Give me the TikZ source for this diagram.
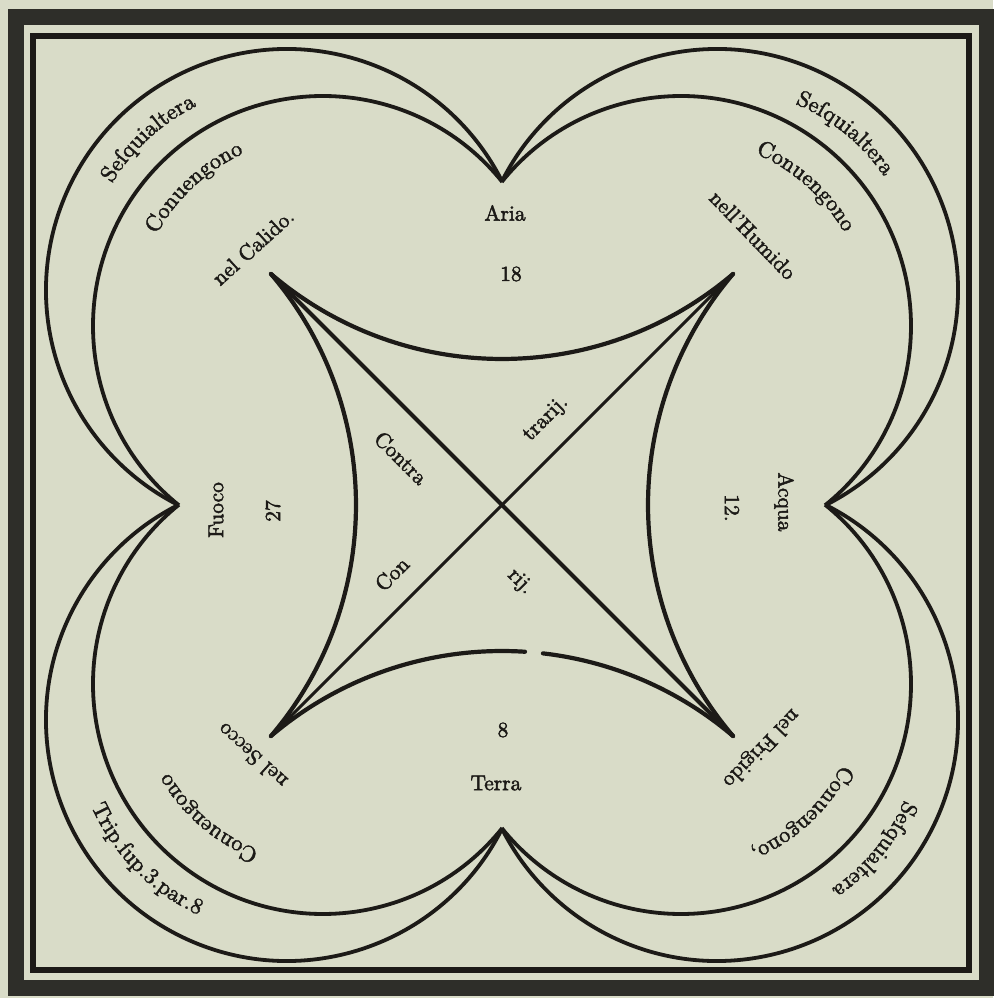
\documentclass[tikz,border=0pt]{standalone}
\usepackage{fontspec}
\setmainfont{lmroman10-regular.otf}[FakeBold=2.2]
\usetikzlibrary{decorations.text}
\definecolor{paper}{HTML}{D9DCC8}
\definecolor{ink}{HTML}{1C1A17}
\definecolor{band}{HTML}{2E2E29}
\newcommand\arctxt[5]{%
  \path[shift={#1},decorate,decoration={text along path,text align=center,
    text={|\color{ink}\fontsize{22.5}{27}\selectfont|#5}}]
    (#3:#2) arc[start angle=#3,end angle=#4,radius=#2];}
\newcommand\cusptip[2]{%
  \fill[ink,shift={(#1)}] (#2+180:3) -- (#2+7:30) -- (#2-7:30) -- cycle;}
\begin{document}
\begin{tikzpicture}[x=1pt,y=1pt,
  lobe/.style={draw=ink,line width=3.8pt},
  starline/.style={draw=ink,line width=4.2pt,line cap=round},
  lbl/.style={text=ink,font=\fontsize{21.5}{26}\selectfont,inner sep=0pt}]
\useasboundingbox (-502,-493) rectangle (491,505);
\fill[paper] (-502,-493) rectangle (491,505);
% frame
\draw[band,line width=16pt] (-485.5,-482.5) rectangle (484.5,487.5);
\draw[ink,line width=6pt] (-468.5,-465) rectangle (467,468.5);
% four lobes (outer and inner arcs)
\draw[lobe,shift={(-215,215)}] (26.67:241) arc[start angle=26.67,end angle=243.33,radius=241];
\draw[lobe,shift={(-179,179)}] (38.82:230) arc[start angle=38.82,end angle=231.18,radius=230];
\draw[lobe,shift={(215,215)}] (153.33:241) arc[start angle=153.33,end angle=-63.33,radius=241];
\draw[lobe,shift={(179,179)}] (141.18:230) arc[start angle=141.18,end angle=-51.18,radius=230];
\draw[lobe,shift={(215,-215)}] (63.33:241) arc[start angle=63.33,end angle=-153.33,radius=241];
\draw[lobe,shift={(179,-179)}] (51.18:230) arc[start angle=51.18,end angle=-141.18,radius=230];
\draw[lobe,shift={(-215,-215)}] (-26.67:241) arc[start angle=-26.67,end angle=-243.33,radius=241];
\draw[lobe,shift={(-179,-179)}] (-38.82:230) arc[start angle=-38.82,end angle=-231.18,radius=230];
% inner four-cusped figure
\coordinate (ctl) at (-231,231);
\coordinate (ctr) at (231,231);
\coordinate (cbr) at (231,-231);
\coordinate (cbl) at (-231,-231);
\draw[starline,shift={(0,502.4)}] (-130.4:356.4) arc[start angle=-130.4,end angle=-49.6,radius=356.4];
\draw[starline,shift={(0,-502.4)}] (130.4:356.4) arc[start angle=130.4,end angle=86.3,radius=356.4];
\draw[starline,shift={(0,-502.4)}] (83.4:356.4) arc[start angle=83.4,end angle=49.6,radius=356.4];
\draw[starline,shift={(-502.4,0)}] (40.4:356.4) arc[start angle=40.4,end angle=-40.4,radius=356.4];
\draw[starline,shift={(502.4,0)}] (139.6:356.4) arc[start angle=139.6,end angle=220.4,radius=356.4];
\draw[ink,line width=4.2pt] (ctl) -- (cbr);
\draw[ink,line width=2.9pt] (ctr) -- (cbl);
\cusptip{ctl}{-45}
\cusptip{ctr}{-135}
\cusptip{cbr}{135}
\cusptip{cbl}{45}
% curved texts
\arctxt{(-215,215)}{205}{162.4}{102.4}{Seſquialtera}
\arctxt{(-179,179)}{190}{162.9}{102.9}{Conuengono}
\arctxt{(215,215)}{202}{80.7}{20.7}{Seſquialtera}
\arctxt{(179,179)}{188}{78.2}{18.2}{Conuengono}
\arctxt{(215,-215)}{204}{-9.5}{-69.5}{Seſquialtera}
\arctxt{(179,-179)}{180}{-16.9}{-76.9}{Conuengono,}
\arctxt{(-179,-179)}{178}{259.4}{199.4}{Conuengono}
\arctxt{(-215,-215)}{214}{194.8}{254.8}{Trip.ſup.3.par.8}
% straight labels
\node[lbl,rotate=42] (calido) at (-249,258) {nel Calido.};
\node[lbl,rotate=-46] (humido) at (251,270) {nell'Humido};
\node[lbl,rotate=-134] (frigido) at (259,-243) {nel Frigido};
\node[lbl,rotate=138] (secco) at (-250,-251) {nel Secco};
\node[lbl] (aria) at (3,292) {Aria};
\node[lbl] (n18) at (9,231) {18};
\node[lbl,rotate=90] (fuoco) at (-286,-5) {Fuoco};
\node[lbl,rotate=90] (n27) at (-229,-6) {27};
\node[lbl,rotate=-90] (acqua) at (282,3) {Acqua};
\node[lbl,rotate=-90] (n12) at (230,-3) {12.};
\node[lbl] (n8) at (1,-225) {8};
\node[lbl] (terra) at (-6,-278) {Terra};
\node[lbl,rotate=-45] (contra) at (-101,47) {Contra};
\node[lbl,rotate=45] (trarij) at (44,86) {trarij.};
\node[lbl,rotate=45] (con) at (-110,-69) {Con};
\node[lbl,rotate=-45] (rij) at (18,-77) {rij.};
\end{tikzpicture}
\end{document}
